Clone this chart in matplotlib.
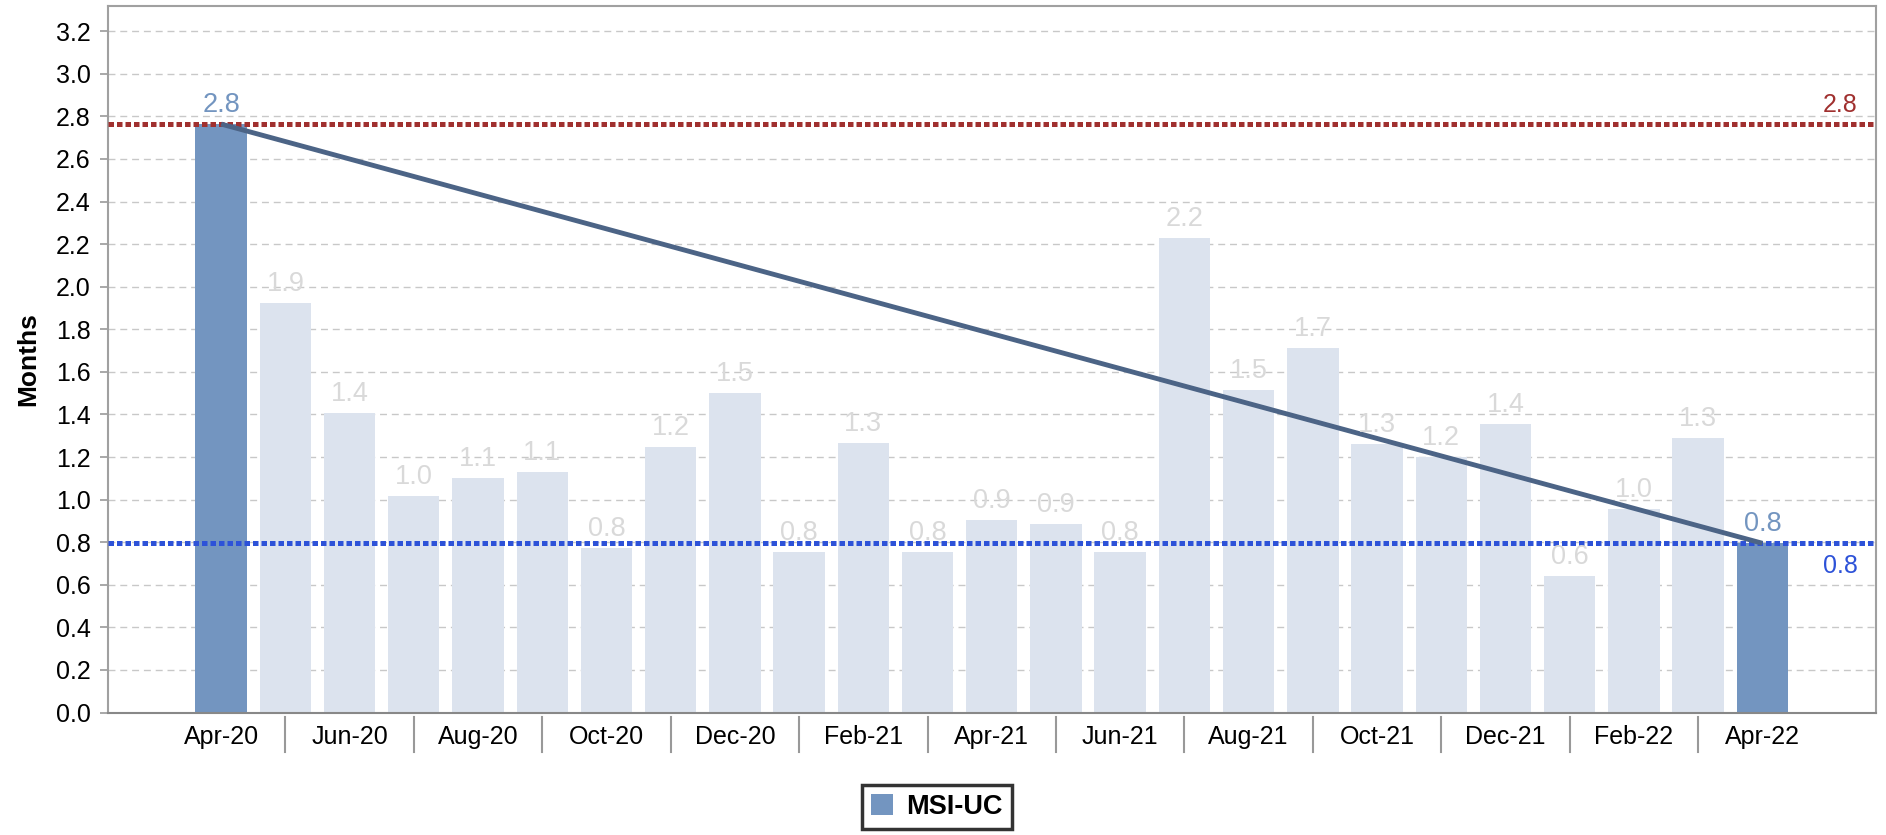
import matplotlib
matplotlib.use("Agg")
import matplotlib.pyplot as plt
import matplotlib.transforms as mtransforms
from matplotlib.patches import Patch
import numpy as np

plt.rcParams['font.family'] = ['Liberation Sans', 'DejaVu Sans']

months = ["Apr-20", "May-20", "Jun-20", "Jul-20", "Aug-20", "Sep-20", "Oct-20", "Nov-20",
          "Dec-20", "Jan-21", "Feb-21", "Mar-21", "Apr-21", "May-21", "Jun-21", "Jul-21",
          "Aug-21", "Sep-21", "Oct-21", "Nov-21", "Dec-21", "Jan-22", "Feb-22", "Mar-22",
          "Apr-22"]
values = [2.764, 1.923, 1.407, 1.017, 1.101, 1.130, 0.773, 1.248,
          1.501, 0.752, 1.266, 0.754, 0.904, 0.885, 0.752, 2.229,
          1.515, 1.712, 1.261, 1.199, 1.355, 0.641, 0.956, 1.290,
          0.795]
series_name = "MSI-UC"
y_label = "Months"

DARK = "#7395c0"
LIGHT = "#dce3ee"
LIGHT_TXT = "#d9d9d9"
TREND = "#4c6486"
RED = "#a0302f"
BLUE = "#2d52d8"

W, H = 1886, 835
fig = plt.figure(figsize=(W / 100, H / 100), dpi=100)
ax = fig.add_axes([107.5 / W, 1 - 712.5 / H, (1876 - 107.5) / W, (712.5 - 5.7) / H])

n = len(values)
x = np.arange(n)
colors = [DARK if i in (0, n - 1) else LIGHT for i in range(n)]
ax.bar(x, values, width=0.8, color=colors, zorder=2)

# grid
ax.set_axisbelow(True)
ax.yaxis.grid(True, linestyle=(0, (5, 3.5)), color="#c8c8c8", linewidth=1.0, zorder=0)

# reference lines
first, last = values[0], values[-1]
ax.axhline(first, color=RED, linewidth=3.6, linestyle=(0, (1.1, 0.6)), zorder=3)
ax.axhline(last, color=BLUE, linewidth=3.6, linestyle=(0, (1.1, 0.6)), zorder=3)

# trend line connecting first and last
ax.plot([x[0], x[-1]], [first, last], color=TREND, linewidth=3.5, zorder=4,
        solid_capstyle="butt")

# value labels
for i, v in enumerate(values):
    c = "#7395c0" if i in (0, n - 1) else LIGHT_TXT
    ax.annotate(f"{v:.1f}", (x[i], v), xytext=(0, 4.5), textcoords="offset points",
                ha="center", va="bottom", fontsize=19.5, color=c, zorder=5)

trans = mtransforms.blended_transform_factory(ax.transAxes, ax.transData)
ax.annotate(f"{first:.1f}", (1, first), xycoords=trans, xytext=(-13, 5),
            textcoords="offset points", ha="right", va="bottom", fontsize=18, color=RED)
ax.annotate(f"{last:.1f}", (1, last), xycoords=trans, xytext=(-13, -8),
            textcoords="offset points", ha="right", va="top", fontsize=18, color=BLUE)

# axes
ax.set_xlim(-1.77, n - 1 + 1.77)
ax.set_ylim(0, 3.32)
ax.set_yticks(np.arange(0, 3.21, 0.2))
ax.set_yticklabels([f"{t:.1f}" for t in np.arange(0, 3.21, 0.2)], fontsize=18)
ax.set_xticks(x[::2])
ax.set_xticklabels(months[::2], fontsize=18)
ax.tick_params(axis="x", length=0, pad=9)
ax.tick_params(axis="y", length=6, width=1.2, color="#999999", pad=6)

# separators between tick labels
ttrans = mtransforms.blended_transform_factory(ax.transData, ax.transAxes)
for xi in x[1::2]:
    ax.plot([xi, xi], [-0.006, -0.056], transform=ttrans, color="#999999",
            linewidth=1.5, clip_on=False)

for s in ax.spines.values():
    s.set_color("#a0a0a0")
    s.set_linewidth(1.5)
ax.spines["bottom"].set_color("#888888")

ax.set_ylabel(y_label, fontsize=19, fontweight="bold", labelpad=11)

handle = Patch(facecolor=DARK, edgecolor="none", label=series_name)
leg = fig.legend(handles=[handle], loc="center", bbox_to_anchor=(936.9 / W, 1 - 807 / H),
                 prop={"weight": "bold", "size": 19.5}, frameon=True, fancybox=False,
                 handlelength=0.8, handleheight=0.8, handletextpad=0.5,
                 borderpad=0.35, borderaxespad=0)
leg.get_frame().set_edgecolor("black")
leg.get_frame().set_linewidth(2.5)

fig.savefig("out.png", dpi=100)
